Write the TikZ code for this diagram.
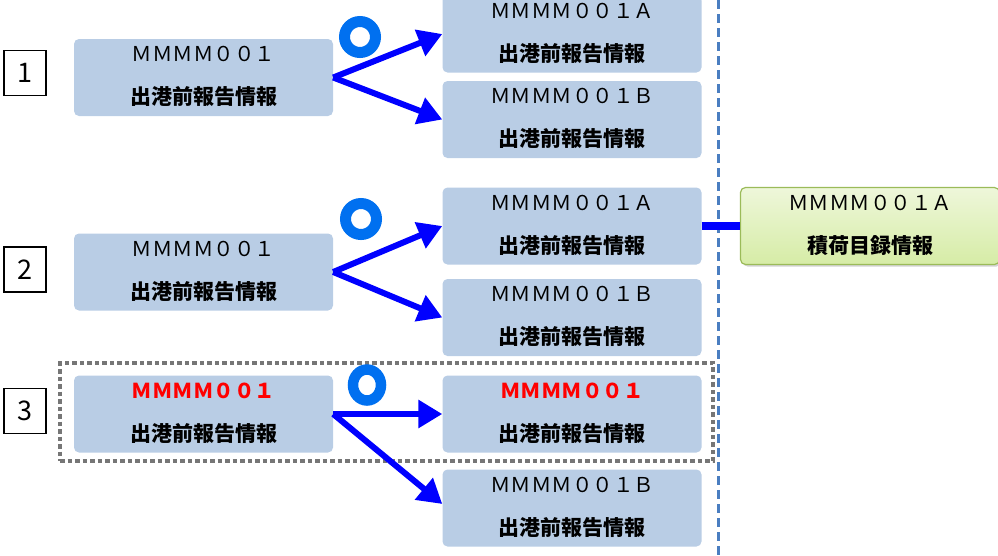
\documentclass[tikz,border=0pt]{standalone}
\usepackage{fontspec}
\newfontfamily\jp{Noto Sans CJK JP}
\usetikzlibrary{arrows.meta,shadows,shapes.geometric}
\definecolor{boxfill}{RGB}{185,205,229}
\definecolor{arrowblue}{RGB}{0,0,255}
\definecolor{ringblue}{RGB}{0,112,240}
\definecolor{vline}{RGB}{74,126,193}
\definecolor{dotgray}{RGB}{118,118,118}
\definecolor{gtop}{RGB}{238,247,218}
\definecolor{gbot}{RGB}{214,236,166}
\definecolor{gdraw}{RGB}{155,187,89}
\tikzset{
 ibox/.style={fill=boxfill, rounded corners=5pt, minimum width=259pt, minimum height=77pt, inner sep=0pt},
 gbox/.style={top color=gtop, bottom color=gbot, draw=gdraw, line width=1.2pt, rounded corners=5pt, minimum width=259pt, minimum height=77pt, inner sep=0pt,
   drop shadow={opacity=0.35, shadow xshift=2pt, shadow yshift=-2pt}},
 tline/.style={font=\jp\fontsize{20.5}{20}\selectfont, anchor=base, inner sep=0pt},
 jline/.style={font=\jp\bfseries\fontsize{21}{21}\selectfont, anchor=base, inner sep=0pt},
 arr/.style={draw=arrowblue, line width=6pt, -{Triangle[length=24pt,width=27pt]}},
 ring/.style={draw=ringblue, line width=11pt, inner sep=0pt},
 numbox/.style={draw=black, line width=1.8pt, fill=white, minimum width=42pt, minimum height=45pt, inner sep=0pt, font=\jp\fontsize{27}{27}\selectfont},
 dotbox/.style={draw=dotgray, line width=4.5pt, dash pattern=on 4.5pt off 3pt},
 vdash/.style={draw=vline, line width=3pt, dash pattern=on 9pt off 5pt},
 link/.style={draw=arrowblue, line width=8pt}
}
\newcommand\ibox[5][black]{%
 \node[ibox] (#2) at (#3) {};
 \node[tline, text=#1] (#2-a) at ([yshift=16pt]#2.center) {#4};
 \node[jline] (#2-b) at ([yshift=-27pt]#2.center) {#5};}
\begin{document}
\begin{tikzpicture}[x=1pt,y=-1pt]
\useasboundingbox (0,0) rectangle (998,555);
% dotted group box (row 3)
\node[dotbox, minimum width=653pt, minimum height=98pt] (grp) at (386.5,412) {};
% vertical dashed line
\coordinate (vt) at (718,0);
\coordinate (vb) at (718,555);
\draw[vdash] (vt) -- (vb);
% row 1
\node[numbox] (n1) at (25,73) {1};
\ibox{L1}{203.5,77.5}{ＭＭＭＭ００１}{出港前報告情報}
\ibox{A1}{572,34}{ＭＭＭＭ００１Ａ}{出港前報告情報}
\ibox{B1}{572,119.5}{ＭＭＭＭ００１Ｂ}{出港前報告情報}
\draw[arr] (L1.east) -- (A1.west);
\draw[arr] (L1.east) -- (B1.west);
\node[ring, circle, minimum size=31pt] (r1) at (360,37) {};
% row 2
\node[numbox] (n2) at (25,269.5) {2};
\ibox{L2}{203.5,272}{ＭＭＭＭ００１}{出港前報告情報}
\ibox{A2}{572,226}{ＭＭＭＭ００１Ａ}{出港前報告情報}
\ibox{B2}{572,317.5}{ＭＭＭＭ００１Ｂ}{出港前報告情報}
\draw[arr] (L2.east) -- (A2.west);
\draw[arr] (L2.east) -- (B2.west);
\node[ring, circle, minimum size=31pt] (r2) at (361,219) {};
% green box
\node[gbox] (G) at (870,226) {};
\node[tline] (G-a) at ([yshift=16pt]G.center) {ＭＭＭＭ００１Ａ};
\node[jline] (G-b) at ([yshift=-27pt]G.center) {積荷目録情報};
\draw[link] (A2.east) -- (G.west);
% row 3
\node[numbox] (n3) at (25,411) {3};
\ibox[red]{L3}{203.5,414}{\bfseries ＭＭＭＭ００１}{出港前報告情報}
\ibox[red]{A3}{572,414}{\bfseries ＭＭＭＭ００１}{出港前報告情報}
\ibox{B3}{572,508}{ＭＭＭＭ００１Ｂ}{出港前報告情報}
\draw[arr] (L3.east) -- (A3.west);
\draw[arr] (L3.east) -- ([yshift=4pt]B3.west);
\node[ring, ellipse, line width=10.5pt, minimum width=28pt, minimum height=31pt] (r3) at (367,385) {};
\end{tikzpicture}
\end{document}
